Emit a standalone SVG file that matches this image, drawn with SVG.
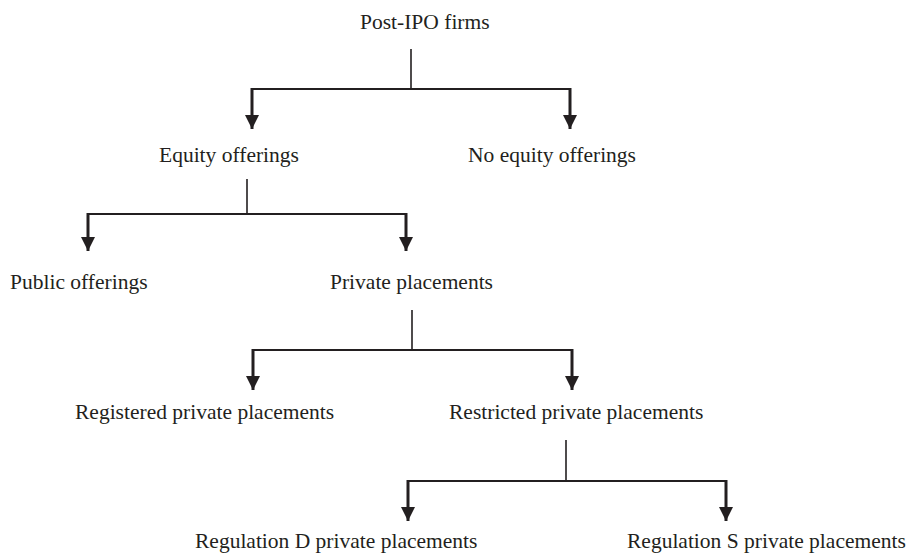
<svg xmlns="http://www.w3.org/2000/svg" width="908" height="554" viewBox="0 0 908 554">
<style>
text{font-family:"Liberation Serif","Times New Roman",serif;font-size:21.5px;fill:#231f20}
.stem{stroke:#231f20;stroke-width:1.6;fill:none}
.bar{stroke:#231f20;stroke-width:2.2;fill:none}
.shaft{stroke:#231f20;stroke-width:3;fill:none}
</style>
<defs>
<marker id="ah" viewBox="0 0 10 10" refX="10" refY="5" markerUnits="userSpaceOnUse" markerWidth="14" markerHeight="15" orient="auto">
<path d="M0,0 L10,5 L0,10 Z" fill="#231f20"/>
</marker>
</defs>
<rect width="908" height="554" fill="#ffffff"/>
<g id="connectors">
<line class="stem" x1="411" y1="49" x2="411" y2="89"/>
<path class="bar" d="M252,89 H570"/>
<line class="shaft" x1="252" y1="88" x2="252" y2="129" marker-end="url(#ah)"/>
<line class="shaft" x1="570" y1="88" x2="570" y2="129" marker-end="url(#ah)"/>
<line class="stem" x1="247" y1="179" x2="247" y2="214"/>
<path class="bar" d="M88,214 H406"/>
<line class="shaft" x1="88" y1="213" x2="88" y2="251" marker-end="url(#ah)"/>
<line class="shaft" x1="406" y1="213" x2="406" y2="251" marker-end="url(#ah)"/>
<line class="stem" x1="412" y1="310" x2="412" y2="350"/>
<path class="bar" d="M253,350 H572"/>
<line class="shaft" x1="253" y1="349" x2="253" y2="390" marker-end="url(#ah)"/>
<line class="shaft" x1="572" y1="349" x2="572" y2="390" marker-end="url(#ah)"/>
<line class="stem" x1="566" y1="440" x2="566" y2="481"/>
<path class="bar" d="M408,481 H726"/>
<line class="shaft" x1="408" y1="480" x2="408" y2="521" marker-end="url(#ah)"/>
<line class="shaft" x1="726" y1="480" x2="726" y2="521" marker-end="url(#ah)"/>
</g>
<g id="post-ipo"><text x="360" y="29">Post-IPO firms</text></g>
<g id="equity"><text x="159" y="162">Equity offerings</text></g>
<g id="no-equity"><text x="468" y="162">No equity offerings</text></g>
<g id="public"><text x="10" y="289">Public offerings</text></g>
<g id="private"><text x="330" y="289">Private placements</text></g>
<g id="registered"><text x="75" y="419">Registered private placements</text></g>
<g id="restricted"><text x="449" y="419">Restricted private placements</text></g>
<g id="reg-d"><text x="195" y="548">Regulation D private placements</text></g>
<g id="reg-s"><text x="627" y="548">Regulation S private placements</text></g>
</svg>
